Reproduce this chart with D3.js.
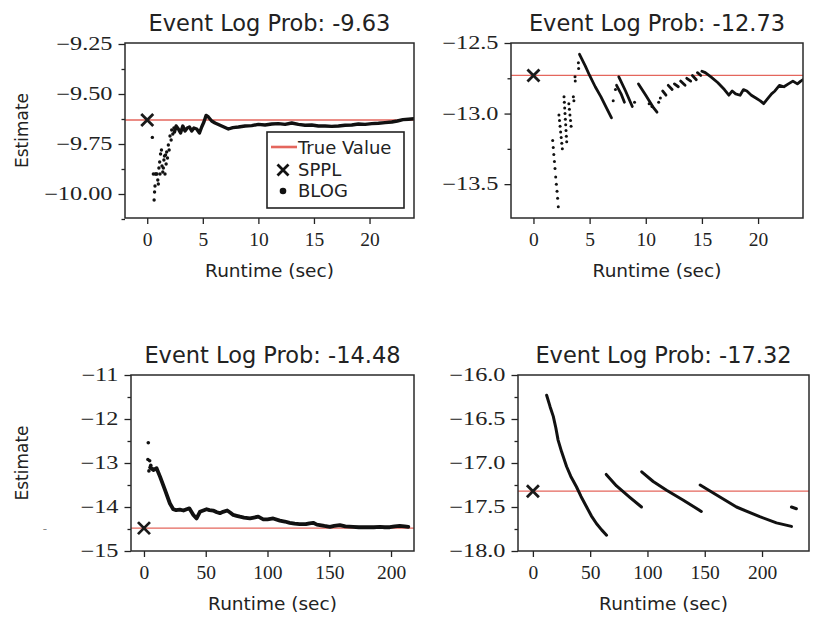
<!DOCTYPE html>
<html><head><meta charset="utf-8">
<script src="https://cdn.jsdelivr.net/npm/d3@7"></script>
<style>body{margin:0;background:#fff}</style>
</head><body><svg id="c" width="814" height="620"></svg>
<script>
// ---------------- data ----------------
const titles = ["Event Log Prob: -9.63", "Event Log Prob: -12.73", "Event Log Prob: -14.48", "Event Log Prob: -17.32"];
const trueValues = [-9.63, -12.73, -14.48, -17.32];
const spplRuntime = [0, 0, 0, 0];
const spplValues = [-9.63, -12.73, -14.48, -17.32];
const xLabel = "Runtime (sec)";
const yLabel = "Estimate";
const legendLabels = ["True Value", "SPPL", "BLOG"];

const xTicksTop = [0, 5, 10, 15, 20];
const xTicksBottom = [0, 50, 100, 150, 200];
const yTicks1 = [-9.25, -9.5, -9.75, -10.0];
const yTickLabels1 = ["−9.25", "−9.50", "−9.75", "−10.00"];
const yMinor1 = [-9.375, -9.625, -9.875, -10.125];
const yTicks2 = [-12.5, -13.0, -13.5];
const yTickLabels2 = ["−12.5", "−13.0", "−13.5"];
const yMinor2 = [-12.75, -13.25];
const yTicks3 = [-11, -12, -13, -14, -15];
const yTickLabels3 = ["−11", "−12", "−13", "−14", "−15"];
const yMinor3 = [-11.5, -12.5, -13.5, -14.5];
const yTicks4 = [-16.0, -16.5, -17.0, -17.5, -18.0];
const yTickLabels4 = ["−16.0", "−16.5", "−17.0", "−17.5", "−18.0"];
const yMinor4 = [-16.25, -16.75, -17.25, -17.75];

// BLOG estimates, panel 1 (sparse early samples, then dense run)
const blogDots1 = [[0.46,-9.717],[0.55,-9.90],[0.62,-10.03],[0.66,-9.99],[0.7,-9.96],[0.72,-9.90],[0.8,-9.90],[0.88,-9.90],[0.95,-9.93],[1.0,-9.95],[1.05,-9.87],[1.12,-9.84],[1.15,-9.90],[1.2,-9.80],[1.28,-9.78],[1.33,-9.86],[1.4,-9.89],[1.45,-9.87],[1.5,-9.83],[1.55,-9.81],[1.6,-9.90],[1.65,-9.805],[1.7,-9.85],[1.75,-9.79],[1.82,-9.82],[1.9,-9.755],[1.97,-9.78],[2.05,-9.71],[2.15,-9.73],[2.2,-9.68],[2.3,-9.70],[2.4,-9.67]];
const blogTraces1 = [[[2.45,-9.69],[2.6,-9.66],[2.8,-9.675],[3.0,-9.695],[3.2,-9.66],[3.4,-9.685],[3.6,-9.67],[3.8,-9.665],[4.0,-9.685],[4.2,-9.67],[4.45,-9.675],[4.7,-9.695],[4.9,-9.665],[5.1,-9.64],[5.3,-9.607],[5.5,-9.615],[5.8,-9.635],[6.1,-9.645],[6.5,-9.655],[6.9,-9.665],[7.3,-9.675],[7.7,-9.668],[8.2,-9.665],[8.8,-9.66],[9.4,-9.658],[10,-9.652],[10.6,-9.655],[11.2,-9.65],[11.8,-9.648],[12.4,-9.652],[13,-9.645],[13.6,-9.652],[14.2,-9.656],[14.8,-9.655],[15.4,-9.66],[16,-9.66],[16.6,-9.662],[17.2,-9.66],[17.8,-9.656],[18.4,-9.655],[19,-9.65],[19.6,-9.652],[20.2,-9.648],[20.8,-9.646],[21.4,-9.643],[22,-9.64],[22.5,-9.635],[23,-9.628],[23.5,-9.626],[24,-9.624]]];

// panel 2
const blogDots2 = [[1.71,-13.19],[1.76,-13.24],[1.81,-13.29],[1.87,-13.34],[1.92,-13.39],[1.98,-13.45],[2.04,-13.50],[2.1,-13.55],[2.15,-13.60],[2.21,-13.66],
  [2.27,-13.01],[2.32,-13.05],[2.37,-13.09],[2.42,-13.13],[2.47,-13.17],[2.52,-13.21],[2.57,-13.25],
  [2.72,-12.88],[2.75,-12.92],[2.78,-12.96],[2.81,-13.0],[2.84,-13.04],[2.87,-13.08],[2.9,-13.12],[2.93,-13.16],[2.96,-13.20],
  [3.15,-12.93],[3.2,-12.97],[3.25,-13.01],[3.3,-13.05],[3.35,-13.09],
  [3.55,-12.88],[3.6,-12.91],
  [3.7,-12.74],[3.72,-12.77],[4.0,-12.64],[4.02,-12.68],
  [7.1,-12.91],[7.3,-12.83],[9.0,-12.92],[10.3,-12.93],[10.55,-12.95],[11.15,-12.92],[11.3,-12.89]];
const blogTraces2 = [
  [[4.1,-12.58],[4.6,-12.66],[5.0,-12.73],[5.5,-12.81],[6.0,-12.88],[6.5,-12.96],[6.95,-13.03]],
  [[7.4,-12.80],[7.8,-12.86],[8.1,-12.92]],
  [[7.6,-12.74],[8.2,-12.84],[8.8,-12.95]],
  [[9.35,-12.79],[10.0,-12.87],[10.7,-12.96],[11.0,-12.99]],
  [[11.5,-12.84],[11.8,-12.87]],
  [[12.0,-12.80],[12.35,-12.83]],
  [[12.55,-12.79],[12.9,-12.81]],
  [[13.1,-12.77],[13.5,-12.80]],
  [[13.65,-12.75],[14.0,-12.77]],
  [[14.15,-12.73],[14.5,-12.76]],
  [[14.6,-12.71],[14.9,-12.73]],
  [[15.0,-12.70],[15.3,-12.71],[15.8,-12.74],[16.4,-12.78],[17.0,-12.83],[17.4,-12.87],[17.7,-12.84],[18.0,-12.86],[18.4,-12.87],[18.7,-12.83],[19.0,-12.84],[19.4,-12.87],[19.8,-12.89],[20.2,-12.91],[20.5,-12.93],[20.8,-12.90],[21.2,-12.86],[21.5,-12.84],[21.9,-12.80],[22.3,-12.81],[22.7,-12.79],[23.1,-12.77],[23.5,-12.79],[23.8,-12.77],[24,-12.76]]
];

// panel 3
const blogDots3 = [[3.5,-12.54],[3.2,-12.92],[4.6,-12.95],[4.0,-13.18],[5.5,-13.05],[6.5,-13.12]];
const blogTraces3 = [[[5,-13.1],[7.6,-13.16],[10.2,-13.12],[13,-13.31],[17,-13.61],[21,-13.92],[23.7,-14.05],[26,-14.07],[29,-14.06],[32,-14.08],[34.5,-14.05],[36.7,-14.03],[40,-14.18],[42.6,-14.26],[45.3,-14.11],[48,-14.08],[50.7,-14.05],[53,-14.07],[56,-14.08],[59,-14.12],[61.5,-14.14],[64,-14.11],[67.4,-14.08],[70,-14.13],[72.3,-14.18],[75,-14.2],[77.7,-14.22],[81,-14.24],[85.8,-14.26],[89,-14.24],[92.5,-14.22],[96.6,-14.28],[100,-14.28],[104.6,-14.26],[110,-14.31],[114,-14.33],[118,-14.36],[122,-14.38],[126,-14.39],[131,-14.39],[134,-14.37],[137,-14.36],[140,-14.4],[142.4,-14.41],[146,-14.43],[150.5,-14.45],[154,-14.43],[158.6,-14.41],[163,-14.44],[169.3,-14.45],[174,-14.46],[180,-14.46],[186,-14.46],[191,-14.45],[195,-14.46],[199,-14.46],[203,-14.44],[207,-14.43],[211,-14.44],[214,-14.45]]];

// panel 4
const blogDots4 = [];
const blogTraces4 = [
  [[12,-16.23],[15,-16.36],[17.8,-16.47],[20,-16.6],[22,-16.74],[25,-16.87],[29.4,-17.04],[33,-17.15],[38,-17.27],[42,-17.38],[46.9,-17.5],[51,-17.6],[55.6,-17.69],[60,-17.76],[64.3,-17.82]],
  [[64,-17.13],[73,-17.26],[84.6,-17.39],[94.8,-17.5]],
  [[95,-17.10],[105,-17.21],[116.7,-17.31],[131,-17.42],[147,-17.55]],
  [[146,-17.25],[160,-17.36],[177.7,-17.5],[198,-17.61],[212.6,-17.68],[225.7,-17.72]],
  [[225.7,-17.5],[230,-17.52]]
];

// ---------------- layout ----------------
const panels = [
  {x0:125, x1:414, y0:43, y1:218, xd:[-2,24], yd:[-10.12,-9.245], xt:xTicksTop, yt:yTicks1, yl:yTickLabels1, ym:yMinor1, dots:blogDots1, traces:blogTraces1, tw:3.4, r:1.7, ylab:true, legend:true},
  {x0:511, x1:803, y0:43, y1:218, xd:[-2,24], yd:[-13.74,-12.5], xt:xTicksTop, yt:yTicks2, yl:yTickLabels2, ym:yMinor2, dots:blogDots2, traces:blogTraces2, tw:2.8, r:1.5, ylab:false},
  {x0:131, x1:414, y0:375, y1:551, xd:[-10.5,218.6], yd:[-15,-11], xt:xTicksBottom, yt:yTicks3, yl:yTickLabels3, ym:yMinor3, dots:blogDots3, traces:blogTraces3, tw:3.8, r:1.8, ylab:true},
  {x0:518, x1:809, y0:375, y1:551, xd:[-13,241], yd:[-18,-16], xt:xTicksBottom, yt:yTicks4, yl:yTickLabels4, ym:yMinor4, dots:blogDots4, traces:blogTraces4, tw:3.0, r:1.5, ylab:false}
];

const svg = d3.select("#c");
const INK = "#111";
const RED = "#e4665d";
const SANS = "'DejaVu Sans', sans-serif";
const SERIF = "'Liberation Serif', 'Times New Roman', serif";
const YSTRETCH = 1.35;

panels.forEach((p, i) => {
  const x = d3.scaleLinear().domain(p.xd).range([p.x0, p.x1]);
  const y = d3.scaleLinear().domain(p.yd).range([p.y1, p.y0]);
  const g = svg.append("g");
  const clipId = "clip" + i;
  svg.append("clipPath").attr("id", clipId).append("rect")
    .attr("x", p.x0).attr("y", p.y0).attr("width", p.x1 - p.x0).attr("height", p.y1 - p.y0);
  const plot = g.append("g").attr("clip-path", `url(#${clipId})`);

  // true value line
  plot.append("line").attr("x1", p.x0).attr("x2", p.x1)
    .attr("y1", y(trueValues[i])).attr("y2", y(trueValues[i]))
    .attr("stroke", RED).attr("stroke-width", 1.3);

  // BLOG dense traces
  const line = d3.line().x(d => x(d[0])).y(d => y(d[1]));
  p.traces.forEach(t => {
    plot.append("path").attr("d", line(t)).attr("fill", "none")
      .attr("stroke", INK).attr("stroke-width", p.tw)
      .attr("stroke-linejoin", "round").attr("stroke-linecap", "round");
  });
  // BLOG sparse dots
  plot.selectAll("circle.d").data(p.dots).join("circle")
    .attr("cx", d => x(d[0])).attr("cy", d => y(d[1])).attr("r", p.r).attr("fill", INK);

  // SPPL marker
  const sx = x(spplRuntime[i]), sy = y(spplValues[i]), s = 6;
  plot.append("path").attr("d", `M${sx-s},${sy-s}L${sx+s},${sy+s}M${sx-s},${sy+s}L${sx+s},${sy-s}`)
    .attr("stroke", "#1a1a1a").attr("stroke-width", 2.8).attr("stroke-linecap", "butt");

  // axes
  const ax = g.append("g").attr("transform", `translate(0,${p.y1})`)
    .call(d3.axisBottom(x).tickValues(p.xt).tickFormat(d3.format("d")).tickSize(6).tickPadding(8));
  const ay = g.append("g").attr("transform", `translate(${p.x0},0)`)
    .call(d3.axisLeft(y).tickValues(p.yt).tickFormat((d, k) => p.yl[k]).tickSize(6.5).tickPadding(6));
  const aym = g.append("g").attr("transform", `translate(${p.x0},0)`)
    .call(d3.axisLeft(y).tickValues(p.ym).tickFormat("").tickSize(3.5));
  [ax, ay, aym].forEach(a => {
    a.select(".domain").remove();
    a.selectAll(".tick line").attr("stroke", "#222").attr("stroke-width", 1.3);
  });
  ax.selectAll(".tick text").attr("font-family", SERIF).attr("font-size", 19.5).attr("fill", "#222");
  ay.selectAll(".tick text").attr("font-family", SERIF).attr("font-size", 18).attr("fill", "#222")
    .attr("x", -12.5 / YSTRETCH).attr("transform", `scale(${YSTRETCH},1)`);

  // frame
  g.append("rect").attr("x", p.x0).attr("y", p.y0).attr("width", p.x1 - p.x0).attr("height", p.y1 - p.y0)
    .attr("fill", "none").attr("stroke", "#2a2a2a").attr("stroke-width", 1.5);

  // title
  g.append("text").attr("x", (p.x0 + p.x1) / 2).attr("y", p.y0 - 12)
    .attr("text-anchor", "middle").attr("font-family", SANS).attr("font-size", 22.5).attr("fill", "#222")
    .text(titles[i]);
  // x label
  g.append("text").attr("x", (p.x0 + p.x1) / 2).attr("y", p.y1 + 59)
    .attr("text-anchor", "middle").attr("font-family", SANS).attr("font-size", 18.5).attr("fill", "#222")
    .text(xLabel);
  // y label
  if (p.ylab) {
    const cy = (p.y0 + p.y1) / 2;
    g.append("text").attr("transform", `translate(28,${cy}) rotate(-90)`)
      .attr("text-anchor", "middle").attr("font-family", SANS).attr("font-size", 17).attr("fill", "#222")
      .text(yLabel);
  }

  // legend
  if (p.legend) {
    const lx = 267, ly = 132, lw = 137, lh = 76;
    const lg = g.append("g");
    lg.append("rect").attr("x", lx).attr("y", ly).attr("width", lw).attr("height", lh)
      .attr("fill", "#fff").attr("stroke", "#222").attr("stroke-width", 1.6);
    lg.append("line").attr("x1", lx + 4).attr("x2", lx + 30).attr("y1", ly + 15).attr("y2", ly + 15)
      .attr("stroke", RED).attr("stroke-width", 2.6);
    const mx = lx + 16, my = ly + 38, ms = 5.5;
    lg.append("path").attr("d", `M${mx-ms},${my-ms}L${mx+ms},${my+ms}M${mx-ms},${my+ms}L${mx+ms},${my-ms}`)
      .attr("stroke", INK).attr("stroke-width", 2.8);
    lg.append("circle").attr("cx", mx).attr("cy", ly + 59).attr("r", 3.3).attr("fill", INK);
    legendLabels.forEach((t, k) => {
      lg.append("text").attr("x", lx + 31).attr("y", ly + 22 + k * 21.5)
        .attr("font-family", SANS).attr("font-size", 18).attr("fill", "#222").text(t);
    });
  }
});

// stray mark at left of lower panel
svg.append("text").attr("x", 45).attr("y", 533).attr("text-anchor", "middle")
  .attr("font-family", SANS).attr("font-size", 12).attr("fill", "#888").text("-");
</script>
</body></html>
